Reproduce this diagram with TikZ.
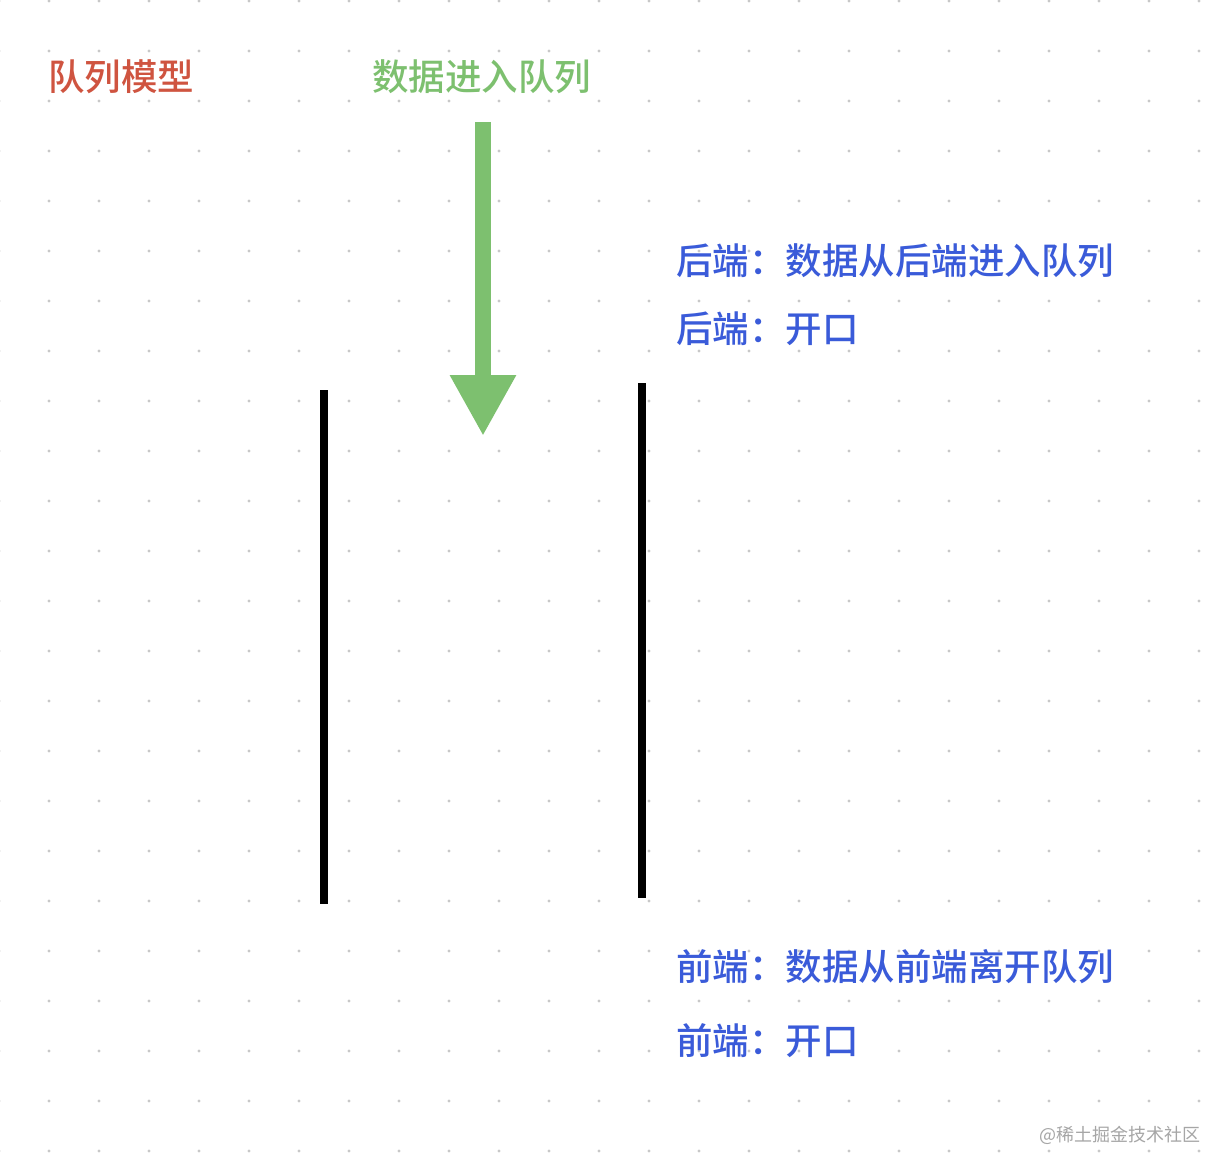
\documentclass[tikz,border=0pt]{standalone}
\usepackage{fontspec}
\usepackage{tikz}
\usetikzlibrary{arrows.meta}
\newfontfamily\cjk{Noto Sans CJK SC}[BoldFont={Noto Sans CJK SC Medium}]
\definecolor{titlered}{HTML}{CF5440}
\definecolor{ingreen}{HTML}{7DC06F}
\definecolor{noteblue}{HTML}{3A5BD9}
\definecolor{dotgray}{HTML}{C8C8C8}

\begin{document}
\begin{tikzpicture}[x=1pt, y=-1pt,
		label text/.style={anchor=west, inner sep=0pt, font=\cjk\bfseries\fontsize{36.5pt}{40pt}\selectfont},
		wall/.style={line width=7.5pt},
		push arrow/.style={ingreen, line width=16pt, -{Triangle[length=61pt, width=62pt]}}]
			\useasboundingbox (0,0) rectangle (1208,1152);
			\fill[white] (0,0) rectangle (1208,1152);
			\foreach \x in {-1,49,...,1199}
				\foreach \y in {1,51,...,1151}
					\fill[dotgray] (\x,\y) circle (1.6pt);
			\node[label text, titlered] (title) at (48,77) {队列模型};
			\node[label text, ingreen] (enqueue) at (372,77) {数据进入队列};
			\node[label text, noteblue] (reartext) at (676,261) {后端：数据从后端进入队列};
			\node[label text, noteblue] (rearopen) at (676,329) {后端：开口};
			\node[label text, noteblue] (fronttext) at (676,967) {前端：数据从前端离开队列};
			\node[label text, noteblue] (frontopen) at (676,1041) {前端：开口};
			\node[anchor=east, inner sep=0pt, gray!70, font=\cjk\fontsize{18pt}{20pt}\selectfont] (mark) at (1201,1135) {@稀土掘金技术社区};
			\coordinate (leftup) at (324,390);
			\coordinate (leftdown) at (324,904);
			\coordinate (rightup) at (642,383);
			\coordinate (rightdown) at (642,898);
			\draw[wall] (leftup) -- (leftdown);
			\draw[wall] (rightup) -- (rightdown);
			\coordinate (arrowtop) at (483,122);
			\coordinate (arrowtip) at (483,436);
			\draw[push arrow] (arrowtop) -- (arrowtip);
		\end{tikzpicture}
\end{document}
